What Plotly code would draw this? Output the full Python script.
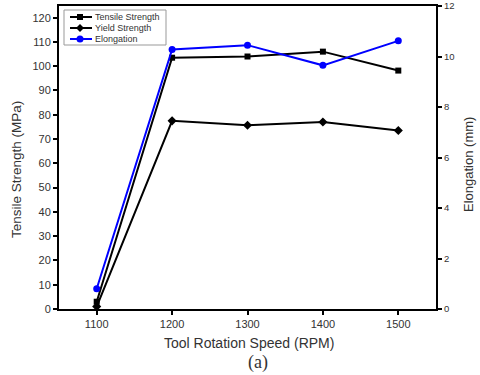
import plotly.graph_objects as go

speeds = [1100, 1200, 1300, 1400, 1500]
tensile = [3, 103.5, 104, 106, 98.2]
yield_s = [1, 77.5, 75.7, 77, 73.5]
elong = [0.8, 10.28, 10.45, 9.65, 10.62]

font = "Liberation Sans, Arial, sans-serif"
tc = "#333333"
blue = "#0000ff"

L, R, T, B = 59, 44, 6, 66
W, H = 480, 375
PW, PH = W - L - R, H - T - B

def px(x):
    return (x - L) / PW

def py(y):
    return (H - B - y) / PH

fig = go.Figure()
fig.add_trace(go.Scatter(x=speeds, y=tensile, name="Tensile Strength", mode="lines+markers",
                         line=dict(color="black", width=2), marker=dict(symbol="square", size=6, color="black")))
fig.add_trace(go.Scatter(x=speeds, y=yield_s, name="Yield Strength", mode="lines+markers",
                         line=dict(color="black", width=2), marker=dict(symbol="diamond", size=7, color="black")))
fig.add_trace(go.Scatter(x=speeds, y=elong, name="Elongation", mode="lines+markers", yaxis="y2",
                         line=dict(color=blue, width=2), marker=dict(symbol="circle", size=7, color=blue)))

# manual compact legend
shapes = [dict(type="rect", xref="paper", yref="paper", x0=px(64), x1=px(166), y0=py(45), y1=py(10),
               line=dict(color="#999999", width=1), fillcolor="white", layer="above")]
annotations = []
items = [("Tensile Strength", "black", "square"), ("Yield Strength", "black", "diamond"),
         ("Elongation", blue, "circle")]
rows = [17, 28, 39]
for (name, col, sym), yy in zip(items, rows):
    shapes.append(dict(type="line", xref="paper", yref="paper", x0=px(70), x1=px(92), y0=py(yy), y1=py(yy),
                       line=dict(color=col, width=2), layer="above"))
    xa, ya = px(80), py(yy)
    if sym == "square":
        shapes.append(dict(type="rect", xref="paper", yref="paper", xsizemode="pixel", ysizemode="pixel",
                           xanchor=xa, yanchor=ya, x0=-3, x1=3, y0=-3, y1=3,
                           fillcolor=col, line=dict(width=0), layer="above"))
    elif sym == "diamond":
        shapes.append(dict(type="path", xref="paper", yref="paper", xsizemode="pixel", ysizemode="pixel",
                           xanchor=xa, yanchor=ya, path="M 0 -4 L 4 0 L 0 4 L -4 0 Z",
                           fillcolor=col, line=dict(width=0), layer="above"))
    else:
        shapes.append(dict(type="circle", xref="paper", yref="paper", xsizemode="pixel", ysizemode="pixel",
                           xanchor=xa, yanchor=ya, x0=-3.5, x1=3.5, y0=-3.5, y1=3.5,
                           fillcolor=col, line=dict(width=0), layer="above"))
    annotations.append(dict(text=name, xref="paper", yref="paper", x=px(93), y=ya, xanchor="left",
                            yanchor="middle", showarrow=False, font=dict(size=9, color=tc)))

annotations += [
    dict(text="Tool Rotation Speed (RPM)", xref="paper", yref="paper", x=px(249), y=py(343),
         xanchor="center", yanchor="middle", showarrow=False, font=dict(size=14, color=tc)),
    dict(text="(a)", xref="paper", yref="paper", x=px(258), y=py(362),
         xanchor="center", yanchor="middle", showarrow=False,
         font=dict(size=18, color=tc, family="Liberation Serif, Times New Roman, serif")),
    dict(text="Tensile Strength (MPa)", xref="paper", yref="paper", x=px(16), y=py(170),
         xanchor="center", yanchor="middle", textangle=-90, showarrow=False,
         font=dict(size=13.5, color=tc)),
    dict(text="Elongation (mm)", xref="paper", yref="paper", x=px(468), y=py(165),
         xanchor="center", yanchor="middle", textangle=-90, showarrow=False,
         font=dict(size=13, color=tc)),
]

axis_common = dict(showgrid=False, zeroline=False, showline=True, linecolor="black", linewidth=2,
                   ticks="outside", ticklen=4, tickwidth=2, tickcolor="black", automargin=False)

fig.update_layout(
    width=W, height=H,
    margin=dict(l=L, r=R, t=T, b=B, autoexpand=False),
    paper_bgcolor="white", plot_bgcolor="white",
    font=dict(family=font, size=10, color=tc),
    showlegend=False,
    xaxis=dict(range=[1050, 1550], tickvals=speeds, mirror=True,
               tickfont=dict(size=11, color=tc), **axis_common),
    yaxis=dict(range=[0, 124.8], tickvals=list(range(0, 121, 10)),
               tickfont=dict(size=11, color=tc), **axis_common),
    yaxis2=dict(range=[0, 12], tickvals=list(range(0, 13, 2)), overlaying="y", side="right",
                tickfont=dict(size=9.5, color=tc), **axis_common),
    shapes=shapes,
    annotations=annotations,
)

fig.write_html("out.html", config={"displayModeBar": False},
               post_script="document.body.style.margin='0';document.body.style.overflow='hidden';")
